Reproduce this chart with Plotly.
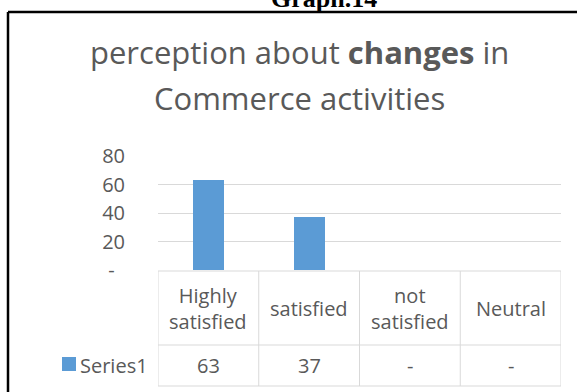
import plotly.graph_objects as go

# Survey responses
categories = ["Highly satisfied", "satisfied", "not satisfied", "Neutral"]
header_labels = ["Highly<br>satisfied", "satisfied", "not<br>satisfied", "Neutral"]
series_name = "Series1"
series_values = [63, 37, 0, 0]
y_tick_values = [0, 20, 40, 60, 80]

W, H = 582, 392
BLUE = "#5b9bd5"
GREY_TXT = "#595959"
GRID = "#d9d9d9"
FONT = "Open Sans"


def px(x):
    return x / W


def py(y):
    return 1 - y / H


def fmt(v):
    # accounting style: zero shown as a dash
    return "-" if v == 0 else str(v)


fig = go.Figure()
fig.add_trace(go.Bar(
    x=list(range(len(categories))), y=series_values, name=series_name,
    marker=dict(color=BLUE, line=dict(width=0)), width=0.31,
    hovertext=categories,
))

# plot area in pixels
PL, PR, PT, PB = 158, 561, 156, 270
# data table rows in pixels
T_TOP, T_MID, T_BOT = 271, 345, 386
LEG_LEFT = 53
n = len(categories)
cat_px = (PR - PL) / n
leg_left_x = -0.5 - (PL - LEG_LEFT) / cat_px

shapes = []
line = dict(color=GRID, width=1)
# horizontal table rules
shapes.append(dict(type="line", xref="x", yref="paper", x0=-0.5, x1=n - 0.5,
                   y0=py(T_TOP), y1=py(T_TOP), line=line))
for yy in (T_MID, T_BOT):
    shapes.append(dict(type="line", xref="x", yref="paper", x0=leg_left_x, x1=n - 0.5,
                       y0=py(yy), y1=py(yy), line=line))
# vertical table rules
shapes.append(dict(type="line", xref="x", yref="paper", x0=leg_left_x, x1=leg_left_x,
                   y0=py(T_MID), y1=py(T_BOT), line=line))
for i in range(n + 1):
    xx = i - 0.5
    shapes.append(dict(type="line", xref="x", yref="paper", x0=xx, x1=xx,
                       y0=py(T_TOP), y1=py(T_BOT), line=line))
# legend key in the table
shapes.append(dict(type="rect", xref="paper", yref="paper", x0=px(62), x1=px(76),
                   y0=py(371), y1=py(357), fillcolor=BLUE, line=dict(width=0)))
# outer frame (top and left)
frame = dict(color="black", width=2.5)
shapes.append(dict(type="line", xref="paper", yref="paper", x0=px(8), x1=px(577),
                   y0=py(12), y1=py(12), line=frame))
shapes.append(dict(type="line", xref="paper", yref="paper", x0=px(8), x1=px(8),
                   y0=py(12), y1=0, line=frame))

annotations = []
txt = dict(family=FONT, size=20, color=GREY_TXT)
for i, (lab, v) in enumerate(zip(header_labels, series_values)):
    annotations.append(dict(x=i, y=py((T_TOP + T_MID) / 2), xref="x", yref="paper",
                            text=lab, showarrow=False, font=txt, align="center",
                            xanchor="center", yanchor="middle"))
    annotations.append(dict(x=i, y=py((T_MID + T_BOT) / 2), xref="x", yref="paper",
                            text=fmt(v), showarrow=False, font=txt,
                            xanchor="center", yanchor="middle"))
annotations.append(dict(x=px(78), y=py((T_MID + T_BOT) / 2), xref="paper", yref="paper",
                        text=series_name, showarrow=False, font=txt,
                        xanchor="left", yanchor="middle"))
# chart title
title_font = dict(family=FONT, size=31, color=GREY_TXT)
annotations.append(dict(x=px(299), y=py(52), xref="paper", yref="paper",
                        text="perception about <b>changes</b> in", showarrow=False,
                        font=title_font, xanchor="center", yanchor="middle"))
annotations.append(dict(x=px(299), y=py(98), xref="paper", yref="paper",
                        text="Commerce activities", showarrow=False,
                        font=title_font, xanchor="center", yanchor="middle"))
# caption above the frame
annotations.append(dict(x=px(324), y=py(15), xref="paper", yref="paper",
                        text="<b>Graph.14</b>", showarrow=False,
                        font=dict(family="Liberation Serif", size=26, color="black"),
                        xanchor="center", yanchor="bottom"))

fig.update_layout(
    width=W, height=H, margin=dict(l=0, r=0, t=0, b=0, autoexpand=False),
    paper_bgcolor="white", plot_bgcolor="white",
    showlegend=False, bargap=0,
    xaxis=dict(domain=[px(PL), px(PR)], range=[-0.5, n - 0.5], showticklabels=False,
               showgrid=False, zeroline=False, showline=False, ticks="",
               automargin=False),
    yaxis=dict(domain=[py(PB), py(PT)], range=[0, 80], tickvals=y_tick_values,
               ticktext=["-\u00a0\u00a0"] + [str(v) for v in y_tick_values[1:]],
               tickfont=txt, showgrid=True, gridcolor=GRID, gridwidth=1,
               zeroline=False, showline=False, ticks="outside", ticklen=28,
               tickcolor="rgba(0,0,0,0)", automargin=False),
    shapes=shapes, annotations=annotations,
)

fig.write_html("out.html")
